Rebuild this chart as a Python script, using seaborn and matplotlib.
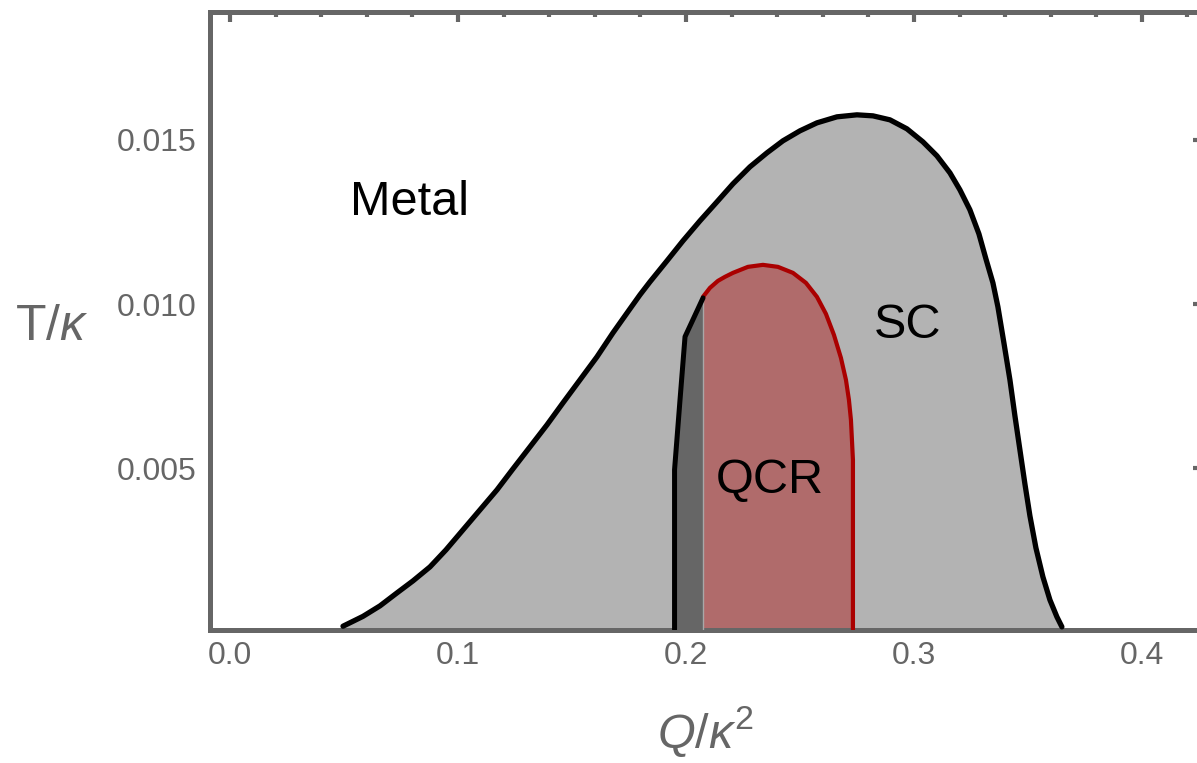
import numpy as np
import pandas as pd
import matplotlib
matplotlib.use("Agg")
import matplotlib.pyplot as plt
from matplotlib.ticker import MultipleLocator, FuncFormatter
import seaborn as sns

# ---------------- data ----------------
sc_q = [0.04956, 0.05395, 0.05833, 0.06579, 0.07325, 0.08026, 0.08772, 0.09474,
        0.10219, 0.10965, 0.11711, 0.12412, 0.13158, 0.13904, 0.14605, 0.15351,
        0.16096, 0.16798, 0.17544, 0.17982, 0.18421, 0.19167, 0.19868, 0.20614,
        0.21360, 0.22061, 0.22807, 0.23553, 0.24254, 0.25000, 0.25746, 0.26623,
        0.27500, 0.28202, 0.28947, 0.29693, 0.30395, 0.31009, 0.31579, 0.32018,
        0.32456, 0.32851, 0.33158, 0.33465, 0.33684, 0.33947, 0.34211, 0.34430,
        0.34649, 0.34868, 0.35088, 0.35351, 0.35658, 0.35965, 0.36272, 0.36491]
sc_t = [0.000200, 0.000350, 0.000500, 0.000819, 0.001214, 0.001579, 0.002005, 0.002523,
        0.003131, 0.003740, 0.004349, 0.004988, 0.005657, 0.006327, 0.006996, 0.007696,
        0.008396, 0.009127, 0.009857, 0.010283, 0.010679, 0.011318, 0.011926, 0.012535,
        0.013113, 0.013661, 0.014178, 0.014604, 0.014970, 0.015274, 0.015517, 0.015700,
        0.015761, 0.015730, 0.015609, 0.015335, 0.014939, 0.014513, 0.013996, 0.013478,
        0.012870, 0.012139, 0.011378, 0.010648, 0.009918, 0.008822, 0.007696, 0.006601,
        0.005566, 0.004531, 0.003558, 0.002584, 0.001701, 0.001001, 0.000484, 0.000180]

edge_q = [0.1950, 0.1950, 0.1974, 0.1996, 0.2075]
edge_t = [0.00010, 0.00496, 0.00709, 0.00901, 0.01019]

qcr_q = [0.20746, 0.21053, 0.21404, 0.21711, 0.22061, 0.22719, 0.23377, 0.24035,
         0.24693, 0.25263, 0.25746, 0.26140, 0.26491, 0.26798, 0.27018, 0.27149,
         0.27237, 0.27281, 0.27325, 0.27325]
qcr_t = [0.010222, 0.010496, 0.010709, 0.010831, 0.010952, 0.011135, 0.011196, 0.011135,
         0.010952, 0.010648, 0.010222, 0.009705, 0.009066, 0.008366, 0.007696, 0.007088,
         0.006479, 0.005870, 0.005262, 0.000100]

qcr_left = 0.20746
x_ticks = [0.0, 0.1, 0.2, 0.3, 0.4]
y_ticks = [0.005, 0.010, 0.015]
labels = {"Metal": (0.0789, 0.01272), "SC": (0.2974, 0.00897), "QCR": (0.2368, 0.00425)}

# ---------------- style ----------------
sns.set_theme(style="white")
plt.rcParams["font.family"] = ["Liberation Sans", "DejaVu Sans"]
plt.rcParams["mathtext.fontset"] = "custom"
plt.rcParams["mathtext.rm"] = "Liberation Sans"
plt.rcParams["mathtext.it"] = "Liberation Sans:italic"

XMIN, XMAX = -0.00877, 0.4268
YMIN, YMAX = 0.0001, 0.01889
FRAME = "#666666"

fig = plt.figure(figsize=(11.97, 7.63), dpi=100)
ax = fig.add_axes([210 / 1197, (763 - 629.5) / 763, (1203 - 210) / 1197, (629.5 - 12) / 763])

# fills
ax.fill_between(sc_q, sc_t, YMIN, color="#b3b3b3", lw=0, zorder=1)
ax.fill_betweenx(edge_t, edge_q, qcr_left, color="#666666", lw=0, zorder=2)
ax.fill_between(qcr_q, qcr_t, YMIN, color="#b06b6b", lw=0, zorder=2)
ax.plot([qcr_left, qcr_left], [YMIN, qcr_t[0]], color="#a8a8a8", lw=1.0, zorder=3)

# lines via seaborn
sc_df = pd.DataFrame({"Q": sc_q, "T": sc_t})
edge_df = pd.DataFrame({"Q": edge_q, "T": edge_t})
qcr_df = pd.DataFrame({"Q": qcr_q, "T": qcr_t})
sns.lineplot(data=qcr_df, x="Q", y="T", sort=False, estimator=None, color="#aa0000", lw=3.0, ax=ax, zorder=4)
sns.lineplot(data=edge_df, x="Q", y="T", sort=False, estimator=None, color="black", lw=3.6, ax=ax, zorder=5)
sns.lineplot(data=sc_df, x="Q", y="T", sort=False, estimator=None, color="black", lw=3.8, ax=ax, zorder=5)
for ln in ax.lines:
    ln.set_solid_joinstyle("round")

for txt, (xq, yt) in labels.items():
    ax.text(xq, yt, txt, ha="center", va="baseline", fontsize=35, color="black", zorder=6)

ax.set_xlim(XMIN, XMAX)
ax.set_ylim(YMIN, YMAX)
ax.set_xlabel("")
ax.set_ylabel("")

ax.set_xticks(x_ticks)
ax.set_yticks(y_ticks)
ax.xaxis.set_minor_locator(MultipleLocator(0.02))
ax.yaxis.set_minor_locator(MultipleLocator(0.001))
ax.xaxis.set_major_formatter(FuncFormatter(lambda v, p: f"{v:.1f}"))
ax.yaxis.set_major_formatter(FuncFormatter(lambda v, p: f"{v:.3f}"))

for s in ax.spines.values():
    s.set_visible(True)
    s.set_color(FRAME)
    s.set_linewidth(3.6)

ax.tick_params(which="both", direction="in", top=True, right=True, color=FRAME,
               labelcolor=FRAME, labelsize=23)
ax.tick_params(which="major", length=7.5, width=3.0)
ax.tick_params(which="minor", length=3.8, width=3.0)
ax.tick_params(axis="x", which="major", pad=8)
ax.tick_params(axis="y", which="major", pad=10)

fig.text(52 / 1197, (763 - 340) / 763, r"T/$\kappa$", ha="center", va="baseline",
         fontsize=36, color=FRAME)
fig.text(706 / 1197, (763 - 748) / 763, r"$Q/\kappa^{2}$", ha="center", va="baseline",
         fontsize=35, color=FRAME)

fig.savefig("out.png", dpi=100)
